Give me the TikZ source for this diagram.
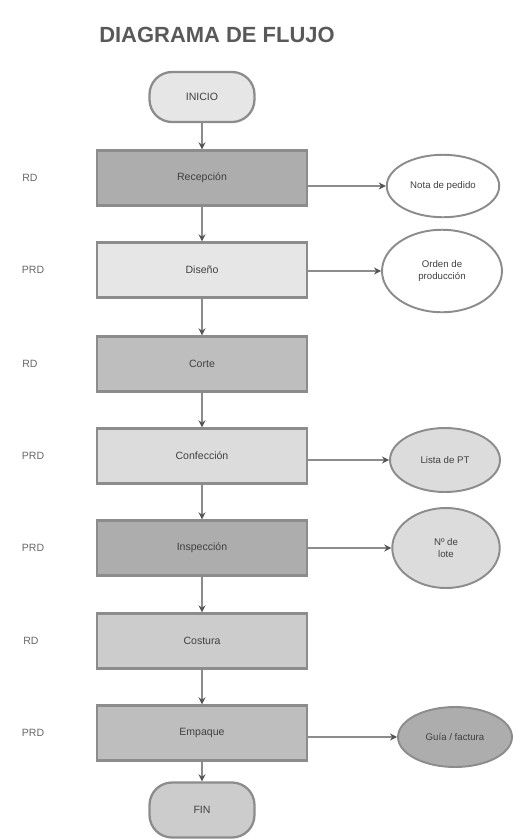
\documentclass[tikz,border=0pt]{standalone}
\usepackage{fontspec}
\setmainfont{Liberation Sans}
\usepackage{xcolor}
\usetikzlibrary{arrows.meta}
\usetikzlibrary{shapes.geometric}

\definecolor{edgegray}{HTML}{8C8C8C}
\definecolor{tipgray}{HTML}{555555}
\definecolor{darkbox}{HTML}{ADADAD}
\definecolor{midbox}{HTML}{BEBEBE}
\definecolor{lightbox}{HTML}{E6E6E6}
\definecolor{palebox}{HTML}{DCDCDC}
\definecolor{softbox}{HTML}{CCCCCC}

\begin{document}
\begin{tikzpicture}[x=0.02cm,y=-0.02cm,
  proc/.style={draw=edgegray, line width=1.3pt, minimum width=4.2cm, minimum height=1.1cm, text=black!75, font=\fontsize{6}{7}\selectfont},
  term/.style={draw=edgegray, line width=1.3pt, fill=lightbox, rounded corners=0.45cm, minimum width=2.1cm, minimum height=1cm, text=black!75, font=\fontsize{6}{7}\selectfont},
  doc/.style={ellipse, draw=edgegray, line width=1.1pt, minimum width=2.1cm, align=center, text=black!75, font=\fontsize{5.5}{6.5}\selectfont},
  tag/.style={text=black!60, font=\fontsize{6}{7}\selectfont},
  flow/.style={draw=edgegray, line width=1pt, -{Stealth[length=4pt,width=4pt,color=tipgray]}}]
  \useasboundingbox (0,0) rectangle (514,840);

  \node[text=black!65, font=\bfseries\fontsize{12.5}{14}\selectfont] (title) at (217,35) {DIAGRAMA DE FLUJO};

  % pasos
  \node[term] (inicio) at (202,97) {INICIO};
  \node[proc, fill=darkbox] (p1) at (202,178) {Recepción};
  \node[proc, fill=lightbox] (p2) at (202,270) {Diseño};
  \node[proc, fill=midbox] (p3) at (202,364) {Corte};
  \node[proc, fill=palebox] (p4) at (202,456) {Confección};
  \node[proc, fill=darkbox] (p5) at (202,548) {Inspección};
  \node[proc, fill=softbox] (p6) at (202,641) {Costura};
  \node[proc, fill=midbox] (p7) at (202,733) {Empaque};
  \node[term, fill=softbox, minimum height=1.1cm] (fin) at (202,810) {FIN};

  % etiquetas
  \node[tag] (t1) at (30,178) {RD};
  \node[tag] (t2) at (33,270) {PRD};
  \node[tag] (t3) at (30,364) {RD};
  \node[tag] (t4) at (33,456) {PRD};
  \node[tag] (t5) at (33,548) {PRD};
  \node[tag] (t6) at (31,641) {RD};
  \node[tag] (t7) at (33,733) {PRD};

  % documentos
  \node[doc, fill=white, minimum width=2.25cm, minimum height=1.25cm] (d1) at (443,186) {Nota de pedido};
  \node[doc, fill=white, minimum width=2.4cm, minimum height=1.65cm] (d2) at (442,271) {Orden de\\producción};
  \node[doc, fill=palebox, minimum width=2.2cm, minimum height=1.28cm] (d4) at (445,460) {Lista de PT};
  \node[doc, fill=palebox, minimum width=2.15cm, minimum height=1.6cm] (d5) at (446,548) {Nº de\\lote};
  \node[doc, fill=darkbox, minimum width=2.28cm, minimum height=1.2cm] (d7) at (455,737) {Guía / factura};

  \draw[flow] (inicio) -- (p1);
  \draw[flow] (p1) -- (p2);
  \draw[flow] (p2) -- (p3);
  \draw[flow] (p3) -- (p4);
  \draw[flow] (p4) -- (p5);
  \draw[flow] (p5) -- (p6);
  \draw[flow] (p6) -- (p7);
  \draw[flow] (p7) -- (fin);

  \draw[flow] (p1.east |- d1) -- (d1);
  \draw[flow] (p2.east |- d2) -- (d2);
  \draw[flow] (p4.east |- d4) -- (d4);
  \draw[flow] (p5.east |- d5) -- (d5);
  \draw[flow] (p7.east |- d7) -- (d7);
\end{tikzpicture}
\end{document}
